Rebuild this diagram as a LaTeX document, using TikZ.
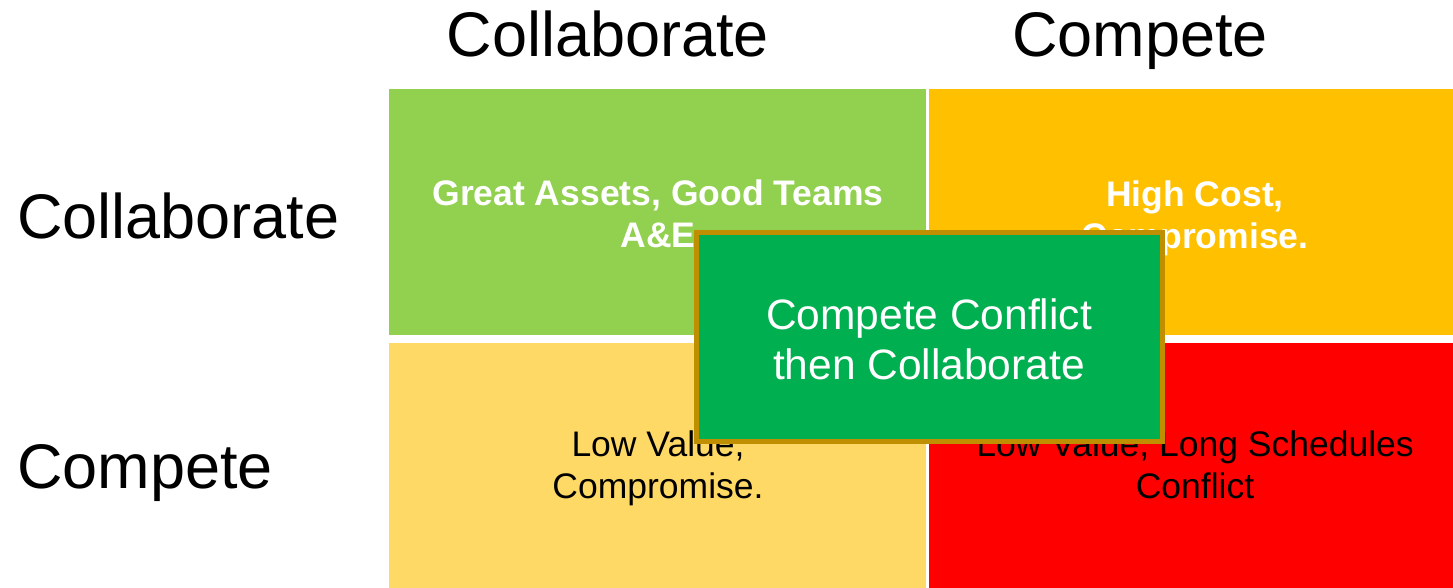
\documentclass[tikz,border=0pt]{standalone}
\usepackage{fontspec}
\setmainfont{Liberation Sans}
\definecolor{cellgreen}{HTML}{92D050}
\definecolor{cellorange}{HTML}{FFC000}
\definecolor{cellyellow}{HTML}{FFD966}
\definecolor{cellred}{HTML}{FF0000}
\definecolor{boxgreen}{HTML}{00B050}
\definecolor{boxborder}{HTML}{BF8F00}
\tikzset{
  cell/.style={draw=none, inner sep=0pt, outer sep=0pt, anchor=north west},
  celltext/.style={align=center, inner sep=0pt, font=\fontsize{35.5}{42}\selectfont},
  headtext/.style={inner sep=0pt, anchor=base, font=\fontsize{63}{72}\selectfont},
  sidetext/.style={inner sep=0pt, anchor=base west, font=\fontsize{63}{72}\selectfont},
  overlaybox/.style={fill=boxgreen, draw=boxborder, line width=5pt, inner sep=0pt,
     minimum width=466pt, minimum height=209pt},
  overlaytext/.style={align=center, inner sep=0pt, text=white, font=\fontsize{42.5}{50}\selectfont}
}
\begin{document}
\begin{tikzpicture}[x=1pt,y=-1pt]
\useasboundingbox[fill=white] (0,0) rectangle (1453,588);
% cells
\node[cell, fill=cellgreen, minimum width=537pt, minimum height=246pt] (tl) at (389,89) {};
\node[cell, fill=cellorange, minimum width=524pt, minimum height=246pt] (tr) at (929,89) {};
\node[cell, fill=cellyellow, minimum width=537pt, minimum height=245pt] (bl) at (389,343) {};
\node[cell, fill=cellred, minimum width=524pt, minimum height=245pt] (br) at (929,343) {};
% cell texts
\node[celltext, text=white, font=\bfseries\fontsize{35.5}{42}\selectfont] (tlt) at (658,214) {Great Assets, Good Teams\\A\&E};
\node[celltext, text=white, font=\bfseries\fontsize{35.5}{42}\selectfont] (trt) at (1195,218) {High Cost,\\Compromise.};
\node[celltext, text=black] (blt) at (658,468) {Low Value,\\Compromise.};
\node[celltext, text=black] (brt) at (1195,465) {Low Value, Long Schedules\\Conflict};
% headers
\node[headtext] (h1) at (608,57) {Collaborate};
\node[headtext] (h2) at (1140,57) {Compete};
\node[sidetext] (s1) at (17,238) {Collaborate};
\node[sidetext] (s2) at (17,488) {Compete};
% overlay
\node[overlaybox] (ov) at (929,337) {};
\node[overlaytext] (ovt) at (929,339) {Compete Conflict\\then Collaborate};
\end{tikzpicture}
\end{document}
